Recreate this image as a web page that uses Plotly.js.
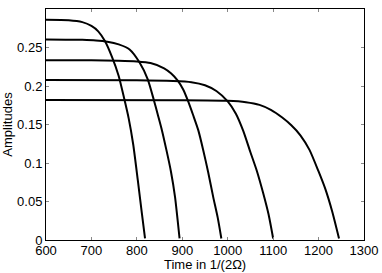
<!DOCTYPE html>
<html>
<head>
<meta charset="utf-8">
<script src="https://cdn.plot.ly/plotly-3.0.1.min.js"></script>
<style>html,body{margin:0;padding:0;background:#fff;}#chart{width:382px;height:273px;}</style>
</head>
<body>
<div id="chart"></div>
<script>
const x1 = [600, 650, 680, 700, 715, 730, 745, 760, 772, 782, 792, 802, 811, 818];
const y1 = [0.286, 0.2855, 0.283, 0.278, 0.271, 0.258, 0.238, 0.213, 0.184, 0.158, 0.124, 0.078, 0.035, 0.002];
const x2 = [600, 680, 710, 735, 760, 784, 806, 824, 837, 846, 855, 865, 875, 884, 894];
const y2 = [0.2605, 0.2600, 0.2592, 0.2575, 0.2540, 0.2475, 0.2305, 0.2087, 0.1826, 0.163, 0.143, 0.117, 0.089, 0.056, 0.002];
const x3 = [600, 700, 760, 800, 830, 860, 875, 890, 902, 913, 924, 935, 946, 957, 968, 978, 986];
const y3 = [0.2335, 0.2333, 0.2328, 0.2318, 0.2298, 0.2230, 0.2165, 0.2070, 0.1955, 0.1800, 0.162, 0.1430, 0.117, 0.088, 0.056, 0.029, 0.002];
const x4 = [600, 800, 880, 920, 950, 975, 1000, 1018, 1034, 1050, 1064, 1078, 1090, 1100];
const y4 = [0.2078, 0.2075, 0.2065, 0.2050, 0.2010, 0.1935, 0.1800, 0.1640, 0.1420, 0.1140, 0.0900, 0.0610, 0.0330, 0.002];
const x5 = [600, 900, 1000, 1040, 1070, 1095, 1120, 1140, 1160, 1180, 1200, 1215, 1230, 1245];
const y5 = [0.1817, 0.1815, 0.1808, 0.1790, 0.1755, 0.1690, 0.1590, 0.1490, 0.1360, 0.1170, 0.0890, 0.0660, 0.037, 0.002];
const xTicks = [600, 700, 800, 900, 1000, 1100, 1200, 1300];
const yTicks = [0, 0.05, 0.1, 0.15, 0.2, 0.25];
const yTickText = ['0', '0.05', '0.1', '0.15', '0.2', '0.25'];
const xTitle = 'Time in 1/(2Ω)';
const yTitle = 'Amplitudes';

const series = [[x1,y1],[x2,y2],[x3,y3],[x4,y4],[x5,y5]];
const traces = series.map(([x,y]) => ({
  x: x, y: y, type: 'scatter', mode: 'lines',
  line: {color: '#000', width: 2, shape: 'spline', smoothing: 0.6},
  hoverinfo: 'skip', showlegend: false
}));

const font = {family: 'Liberation Sans, Arial, sans-serif', size: 13, color: '#000'};
const layout = {
  width: 382, height: 273,
  margin: {l: 46, r: 18, t: 9, b: 33, pad: 0},
  paper_bgcolor: '#fff', plot_bgcolor: '#fff',
  font: font,
  showlegend: false,
  xaxis: {
    range: [600, 1300], tickvals: xTicks, ticktext: xTicks.map(String),
    ticks: 'inside', ticklen: 3, tickcolor: '#888', tickwidth: 1,
    showline: true, linecolor: '#000', linewidth: 1, mirror: 'ticks',
    showgrid: false, zeroline: false, automargin: false,
    ticklabelstandoff: -2,
    tickfont: font
  },
  yaxis: {
    range: [0, 0.3], tickvals: yTicks, ticktext: yTickText,
    ticks: 'inside', ticklen: 3, tickcolor: '#888', tickwidth: 1,
    showline: true, linecolor: '#000', linewidth: 1, mirror: 'ticks',
    showgrid: false, zeroline: false, automargin: false,
    tickfont: font,
    title: {text: yTitle, font: font, standoff: 2}
  },
  annotations: [{
    text: xTitle, xref: 'paper', yref: 'paper', x: 0.5, y: -0.107,
    xanchor: 'center', yanchor: 'middle', showarrow: false, font: font
  }]
};
Plotly.newPlot('chart', traces, layout, {staticPlot: true, displayModeBar: false});
</script>
</body>
</html>
